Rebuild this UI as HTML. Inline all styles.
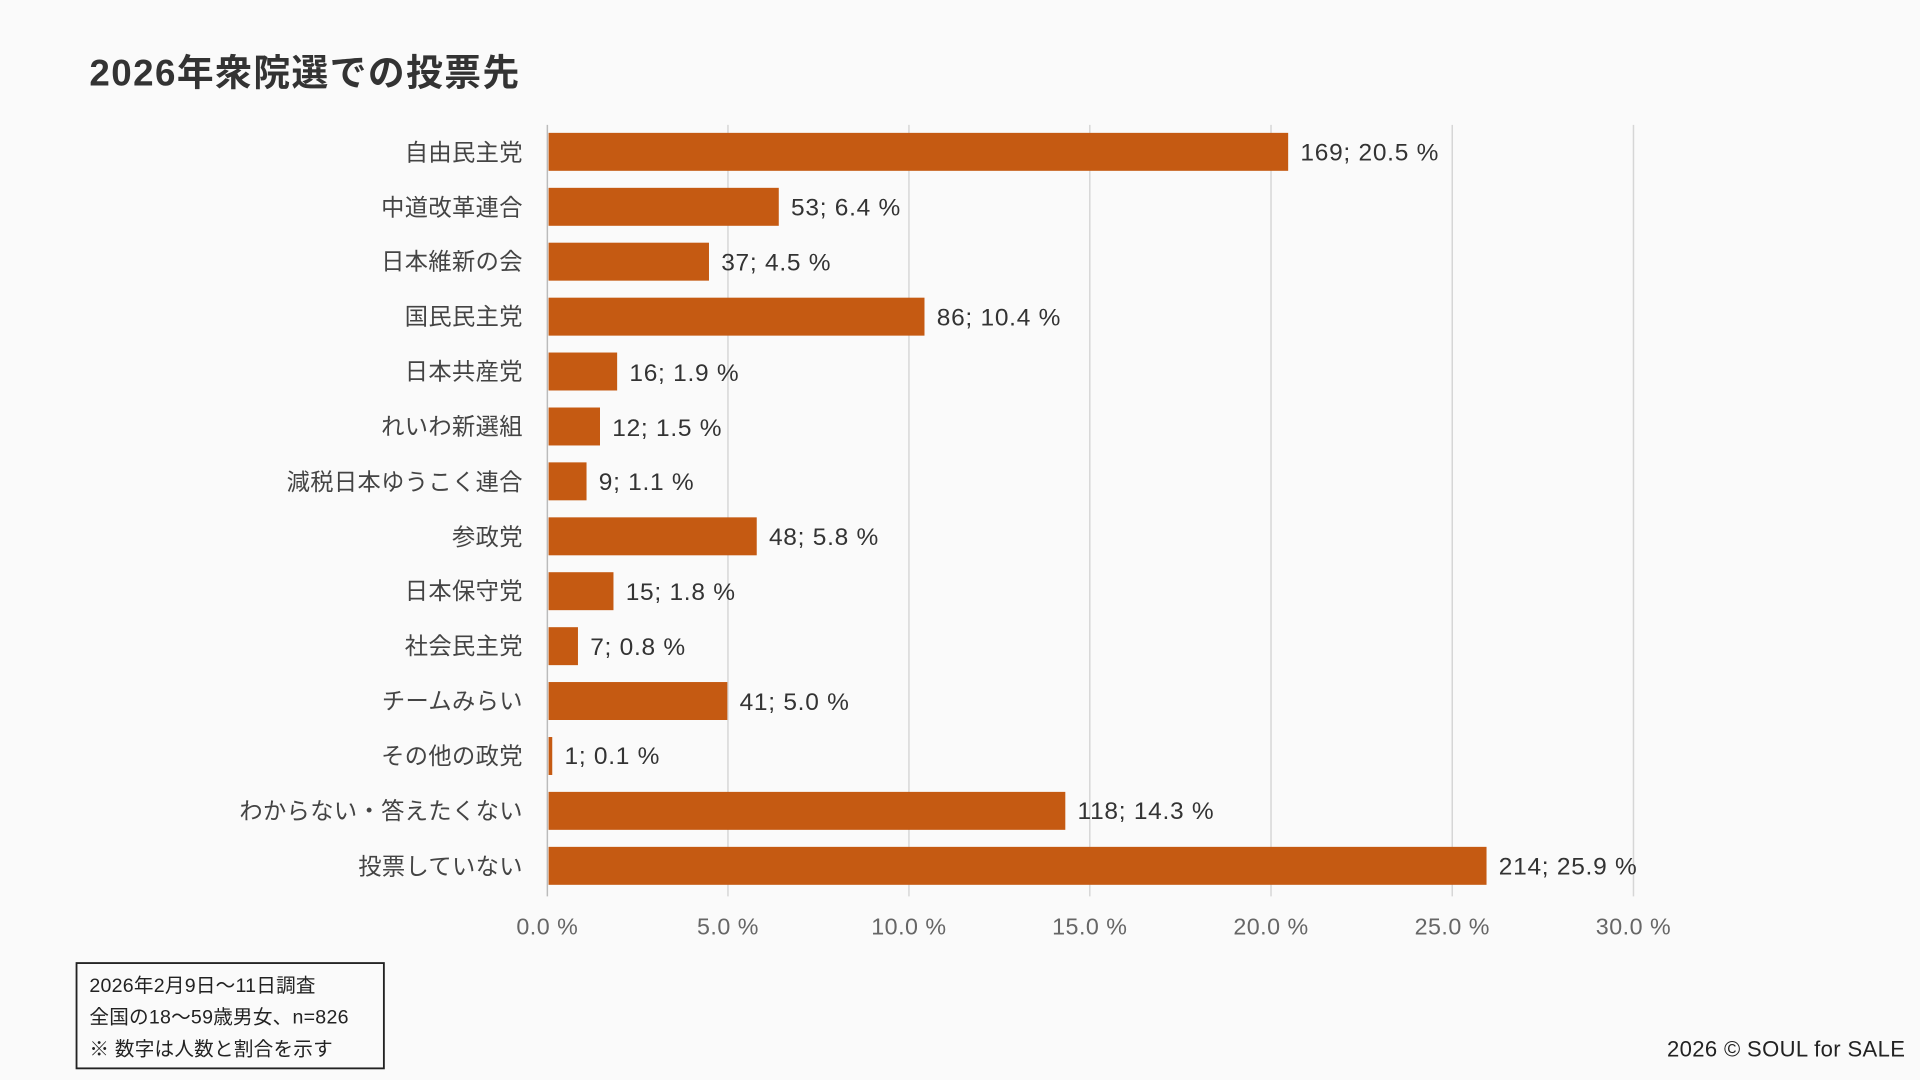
<!DOCTYPE html>
<html><head><meta charset="utf-8"><style>
html,body{margin:0;padding:0;background:#fafafa;}
svg{display:block;font-family:"Liberation Sans","Noto Sans CJK JP",sans-serif;}
</style></head><body>
<svg width="1920" height="1080" viewBox="0 0 1568 882" xmlns="http://www.w3.org/2000/svg">
<rect width="1568" height="882" fill="#fafafa"/>
<text x="73" y="70" font-size="30" font-weight="bold" fill="#333" letter-spacing="1.2">2026年衆院選での投票先</text>
<g stroke="#d6d6d6" stroke-width="1.2">
<line x1="594.5" y1="102" x2="594.5" y2="732"/>
<line x1="742.3" y1="102" x2="742.3" y2="732"/>
<line x1="890" y1="102" x2="890" y2="732"/>
<line x1="1038" y1="102" x2="1038" y2="732"/>
<line x1="1186" y1="102" x2="1186" y2="732"/>
<line x1="1334" y1="102" x2="1334" y2="732"/>
</g>
<line x1="447" y1="102" x2="447" y2="732" stroke="#bbb" stroke-width="1.2"/>
<g font-size="19" fill="#666" text-anchor="middle" letter-spacing="0.4">
<text x="447" y="763">0.0 %</text><text x="594.5" y="763">5.0 %</text><text x="742.3" y="763">10.0 %</text>
<text x="890" y="763">15.0 %</text><text x="1038" y="763">20.0 %</text><text x="1186" y="763">25.0 %</text><text x="1334" y="763">30.0 %</text>
</g>
<g fill="#c55a12">
<rect x="448" y="108.5" width="604" height="31"/>
<rect x="448" y="153.4" width="188" height="31"/>
<rect x="448" y="198.2" width="131" height="31"/>
<rect x="448" y="243.1" width="307" height="31"/>
<rect x="448" y="287.9" width="56" height="31"/>
<rect x="448" y="332.8" width="42" height="31"/>
<rect x="448" y="377.6" width="31" height="31"/>
<rect x="448" y="422.5" width="170" height="31"/>
<rect x="448" y="467.3" width="53" height="31"/>
<rect x="448" y="512.2" width="24" height="31"/>
<rect x="448" y="557" width="146" height="31"/>
<rect x="448" y="601.9" width="3" height="31"/>
<rect x="448" y="646.7" width="422" height="31"/>
<rect x="448" y="691.6" width="766" height="31"/>
</g>
<g font-size="19" fill="#444" text-anchor="end" letter-spacing="0.3">
<text x="427" y="131">自由民主党</text>
<text x="427" y="176">中道改革連合</text>
<text x="427" y="220">日本維新の会</text>
<text x="427" y="265">国民民主党</text>
<text x="427" y="310">日本共産党</text>
<text x="427" y="355">れいわ新選組</text>
<text x="427" y="400">減税日本ゆうこく連合</text>
<text x="427" y="445">参政党</text>
<text x="427" y="489">日本保守党</text>
<text x="427" y="534">社会民主党</text>
<text x="427" y="579">チームみらい</text>
<text x="427" y="624">その他の政党</text>
<text x="427" y="669">わからない・答えたくない</text>
<text x="427" y="714">投票していない</text>
</g>
<g font-size="20" fill="#333" letter-spacing="0.6">
<text x="1062" y="131">169; 20.5 %</text>
<text x="646" y="176">53; 6.4 %</text>
<text x="589" y="221">37; 4.5 %</text>
<text x="765" y="266">86; 10.4 %</text>
<text x="514" y="311">16; 1.9 %</text>
<text x="500" y="356">12; 1.5 %</text>
<text x="489" y="400">9; 1.1 %</text>
<text x="628" y="445">48; 5.8 %</text>
<text x="511" y="490">15; 1.8 %</text>
<text x="482" y="535">7; 0.8 %</text>
<text x="604" y="580">41; 5.0 %</text>
<text x="461" y="624">1; 0.1 %</text>
<text x="880" y="669">118; 14.3 %</text>
<text x="1224" y="714">214; 25.9 %</text>
</g>
<rect x="62.5" y="786.5" width="251" height="86" fill="none" stroke="#222" stroke-width="1.5"/>
<g font-size="16" fill="#222" letter-spacing="0.2">
<text x="73" y="810">2026年2月9日〜11日調査</text>
<text x="73" y="836">全国の18〜59歳男女、n=826</text>
<text x="73" y="862">※ 数字は人数と割合を示す</text>
</g>
<text x="1556" y="863" font-size="18" fill="#222" text-anchor="end" letter-spacing="0.3">2026 © SOUL for SALE</text>
</svg>
</body></html>
